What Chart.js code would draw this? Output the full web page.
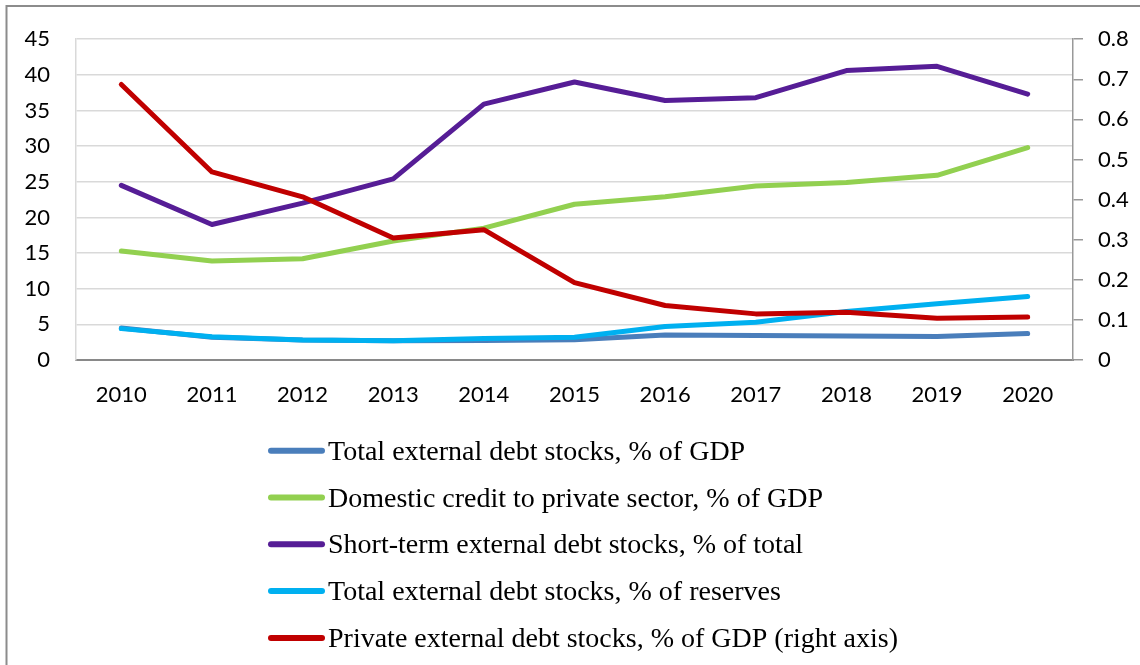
<!DOCTYPE html>
<html>
<head>
<meta charset="utf-8">
<script src="https://cdn.jsdelivr.net/npm/chart.js@4/dist/chart.umd.min.js"></script>
<style>
  html, body { margin: 0; padding: 0; background: #fff; }
  #wrap { width: 1140px; height: 665px; }
</style>
</head>
<body>
<div id="wrap"><canvas id="debtChart" width="1140" height="665"></canvas></div>
<script>
// Years on the category axis
const years = ['2010', '2011', '2012', '2013', '2014', '2015', '2016', '2017', '2018', '2019', '2020'];

// Left axis series (percent)
const totalDebtGdp = [4.5, 3.2, 2.8, 2.7, 2.75, 2.85, 3.5, 3.45, 3.35, 3.3, 3.7];
const domesticCredit = [15.3, 13.9, 14.2, 16.7, 18.5, 21.85, 22.9, 24.4, 24.9, 25.9, 29.8];
const shortTermDebt = [24.5, 19.0, 22.0, 25.4, 35.9, 39.0, 36.4, 36.8, 40.6, 41.2, 37.3];
const totalDebtReserves = [4.4, 3.25, 2.8, 2.7, 3.0, 3.2, 4.7, 5.3, 6.8, 7.9, 8.9];

// Right axis series (share of GDP)
const privateDebtGdp = [0.687, 0.469, 0.407, 0.304, 0.325, 0.193, 0.136, 0.115, 0.119, 0.104, 0.107];

const seriesLabels = [
    'Total external debt stocks, % of GDP',
    'Domestic credit to private sector, % of GDP',
    'Short-term external debt stocks, % of total',
    'Total external debt stocks, % of reserves',
    'Private external debt stocks, % of GDP (right axis)'
];
const seriesColors = ['#4a7ebb', '#92d050', '#561d96', '#00b0f0', '#c00000'];

const tickFont = { family: 'Lato, "Open Sans", sans-serif', size: 22 };

function makeLine(i, data, axis, order) {
    return {
        label: seriesLabels[i],
        data: data,
        yAxisID: axis,
        borderColor: seriesColors[i],
        backgroundColor: seriesColors[i],
        borderWidth: 5,
        borderCapStyle: 'round',
        borderJoinStyle: 'round',
        pointRadius: 0,
        tension: 0,
        order: order
    };
}

// outer frame around the chart (top and left edges)
const framePlugin = {
    id: 'frame',
    beforeDraw(chart) {
        const ctx = chart.ctx;
        ctx.save();
        ctx.fillStyle = '#fff';
        ctx.fillRect(0, 0, chart.width, chart.height);
        ctx.strokeStyle = '#8c8c8c';
        ctx.lineWidth = 2;
        ctx.beginPath();
        ctx.moveTo(6.5, chart.height);
        ctx.lineTo(6.5, 6);
        ctx.lineTo(chart.width, 6);
        ctx.stroke();
        ctx.restore();
    }
};

// stacked legend under the plot, one series per row
const stackedLegend = {
    id: 'stackedLegend',
    afterDraw(chart) {
        const ctx = chart.ctx;
        const top = 450.7;
        const step = 46.8;
        ctx.save();
        ctx.font = '28px "Liberation Serif", "DejaVu Serif", serif';
        ctx.textBaseline = 'alphabetic';
        ctx.textAlign = 'left';
        chart.data.datasets.forEach((ds, i) => {
            const y = top + i * step;
            ctx.strokeStyle = ds.borderColor;
            ctx.lineWidth = 6;
            ctx.lineCap = 'round';
            ctx.beginPath();
            ctx.moveTo(271, y);
            ctx.lineTo(322, y);
            ctx.stroke();
            ctx.fillStyle = '#000';
            ctx.fillText(ds.label, 328, y + 9);
        });
        ctx.restore();
    }
};

new Chart(document.getElementById('debtChart'), {
    type: 'line',
    data: {
        labels: years,
        datasets: [
            makeLine(0, totalDebtGdp, 'y', 5),
            makeLine(1, domesticCredit, 'y', 4),
            makeLine(2, shortTermDebt, 'y', 3),
            makeLine(3, totalDebtReserves, 'y', 2),
            makeLine(4, privateDebtGdp, 'y1', 1)
        ]
    },
    options: {
        responsive: false,
        animation: false,
        layout: { padding: { left: 0, right: 0, top: 36, bottom: 255 } },
        plugins: {
            legend: { display: false },
            tooltip: { enabled: false }
        },
        scales: {
            x: {
                offset: true,
                grid: { display: false, drawTicks: false },
                border: { color: '#898989', width: 2 },
                ticks: { color: '#000', font: tickFont, padding: 22, maxRotation: 0 },
                afterFit(scale) { scale.height = 50; }
            },
            y: {
                position: 'left',
                min: 0,
                max: 45,
                grid: { color: '#d9d9d9', lineWidth: 1.5, drawTicks: false },
                border: { color: '#d9d9d9', width: 1.5 },
                ticks: { stepSize: 5, color: '#000', font: tickFont, padding: 26 },
                afterFit(scale) { scale.width = 76; }
            },
            y1: {
                position: 'right',
                min: 0,
                max: 0.8,
                grid: { drawOnChartArea: false, tickLength: 10, color: '#999', lineWidth: 1.5 },
                border: { color: '#999', width: 1.5 },
                ticks: { stepSize: 0.1, color: '#000', font: tickFont, padding: 15 },
                afterFit(scale) { scale.width = 67; }
            }
        }
    },
    plugins: [framePlugin, stackedLegend]
});
</script>
</body>
</html>
